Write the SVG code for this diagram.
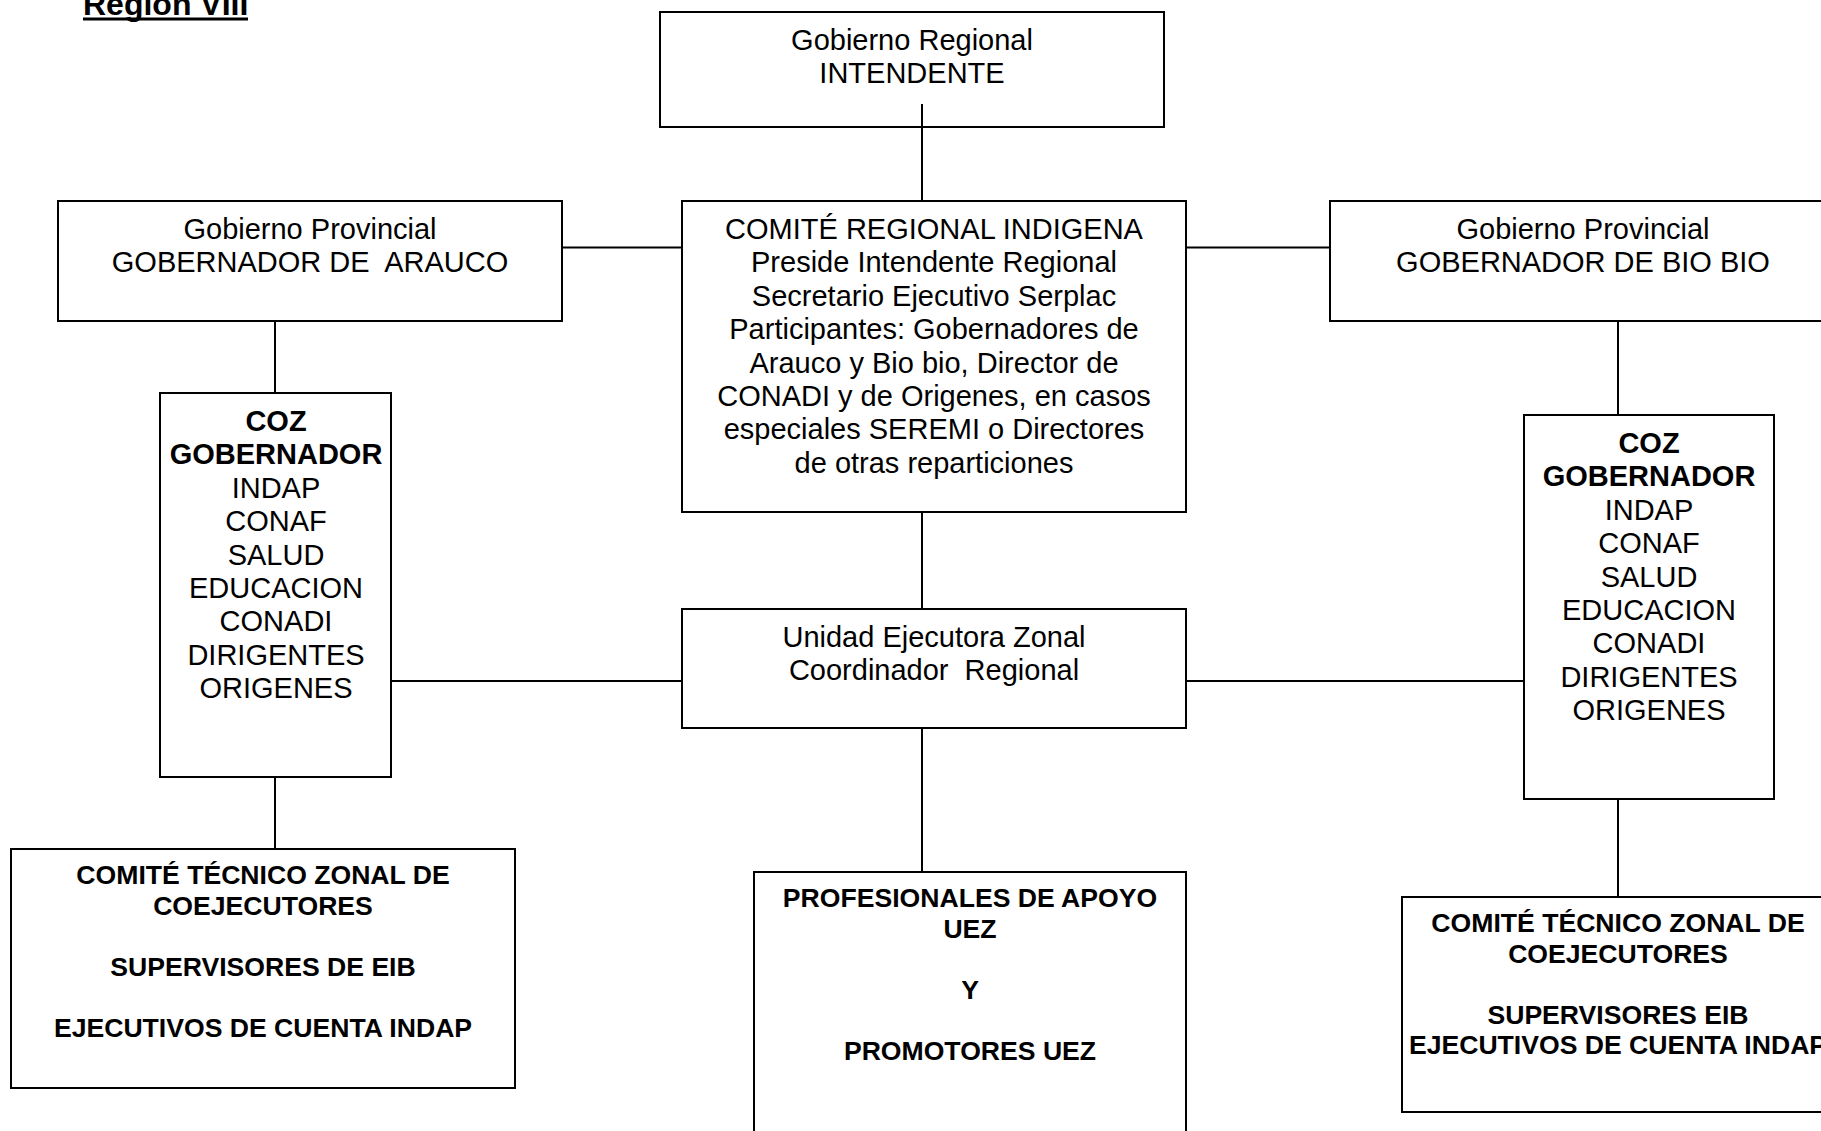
<svg xmlns="http://www.w3.org/2000/svg" width="1821" height="1131" viewBox="0 0 1821 1131">
<style>
.box{fill:#fff;stroke:#000;stroke-width:2}
.con line{stroke:#000;stroke-width:2}
text{font-family:"Liberation Sans",Arial,sans-serif;fill:#000;text-anchor:middle;white-space:pre}
.r{font-size:29px}
.b{font-size:29px;font-weight:bold}
.s{font-size:26.6px;font-weight:bold}
</style>
<rect width="1821" height="1131" fill="#fff"/>
<g id="title">
<text x="83" y="15" style="text-anchor:start;font-size:32px;font-weight:bold">Region VIII</text>
<rect x="83" y="17.5" width="165" height="3" fill="#000"/>
</g>
<g id="n-gobierno-regional">
<rect class="box" x="660" y="12" width="504" height="115"/>
<text class="r" x="912"><tspan x="912" y="50">Gobierno Regional</tspan><tspan x="912" y="83.4">INTENDENTE</tspan></text>
</g>
<g id="n-arauco">
<rect class="box" x="58" y="201" width="504" height="120"/>
<text class="r" xml:space="preserve"><tspan x="310" y="239">Gobierno Provincial</tspan><tspan x="310" y="272.4">GOBERNADOR DE  ARAUCO</tspan></text>
</g>
<g id="n-comite-regional">
<rect class="box" x="682" y="201" width="504" height="311"/>
<text class="r"><tspan x="934" y="239">COMITÉ REGIONAL INDIGENA</tspan><tspan x="934" y="272.4">Preside Intendente Regional</tspan><tspan x="934" y="305.8">Secretario Ejecutivo Serplac</tspan><tspan x="934" y="339.2">Participantes: Gobernadores de</tspan><tspan x="934" y="372.6">Arauco y Bio bio, Director de</tspan><tspan x="934" y="406">CONADI y de Origenes, en casos</tspan><tspan x="934" y="439.4">especiales SEREMI o Directores</tspan><tspan x="934" y="472.8">de otras reparticiones</tspan></text>
</g>
<g id="n-biobio">
<rect class="box" x="1330" y="201" width="504" height="120"/>
<text class="r"><tspan x="1583" y="239">Gobierno Provincial</tspan><tspan x="1583" y="272.4">GOBERNADOR DE BIO BIO</tspan></text>
</g>
<g id="n-coz-left">
<rect class="box" x="160" y="393" width="231" height="384"/>
<text><tspan class="b" x="276" y="431">COZ</tspan><tspan class="b" x="276" y="464.4">GOBERNADOR</tspan><tspan class="r" x="276" y="497.8">INDAP</tspan><tspan class="r" x="276" y="531.2">CONAF</tspan><tspan class="r" x="276" y="564.6">SALUD</tspan><tspan class="r" x="276" y="598">EDUCACION</tspan><tspan class="r" x="276" y="631.4">CONADI</tspan><tspan class="r" x="276" y="664.8">DIRIGENTES</tspan><tspan class="r" x="276" y="698.2">ORIGENES</tspan></text>
</g>
<g id="n-coz-right">
<rect class="box" x="1524" y="415" width="250" height="384"/>
<text><tspan class="b" x="1649" y="453">COZ</tspan><tspan class="b" x="1649" y="486.4">GOBERNADOR</tspan><tspan class="r" x="1649" y="519.8">INDAP</tspan><tspan class="r" x="1649" y="553.2">CONAF</tspan><tspan class="r" x="1649" y="586.6">SALUD</tspan><tspan class="r" x="1649" y="620">EDUCACION</tspan><tspan class="r" x="1649" y="653.4">CONADI</tspan><tspan class="r" x="1649" y="686.8">DIRIGENTES</tspan><tspan class="r" x="1649" y="720.2">ORIGENES</tspan></text>
</g>
<g id="n-uez">
<rect class="box" x="682" y="609" width="504" height="119"/>
<text class="r" xml:space="preserve"><tspan x="934" y="647">Unidad Ejecutora Zonal</tspan><tspan x="934" y="680.4">Coordinador  Regional</tspan></text>
</g>
<g id="n-profesionales">
<rect class="box" x="754" y="872" width="432" height="270"/>
<text class="s"><tspan x="970" y="907">PROFESIONALES DE APOYO</tspan><tspan x="970" y="937.6">UEZ</tspan><tspan x="970" y="998.8">Y</tspan><tspan x="970" y="1060">PROMOTORES UEZ</tspan></text>
</g>
<g id="n-tecnico-left">
<rect class="box" x="11" y="849" width="504" height="239"/>
<text class="s"><tspan x="263" y="884">COMITÉ TÉCNICO ZONAL DE</tspan><tspan x="263" y="914.6">COEJECUTORES</tspan><tspan x="263" y="975.8">SUPERVISORES DE EIB</tspan><tspan x="263" y="1037">EJECUTIVOS DE CUENTA INDAP</tspan></text>
</g>
<g id="n-tecnico-right">
<rect class="box" x="1402" y="897" width="432" height="215"/>
<text class="s"><tspan x="1618" y="932">COMITÉ TÉCNICO ZONAL DE</tspan><tspan x="1618" y="962.6">COEJECUTORES</tspan><tspan x="1618" y="1023.8">SUPERVISORES EIB</tspan><tspan x="1618" y="1054.4">EJECUTIVOS DE CUENTA INDAP</tspan></text>
</g>
<g id="connectors" class="con">
<line x1="922" y1="104" x2="922" y2="201"/>
<line x1="562" y1="247.5" x2="682" y2="247.5"/>
<line x1="1186" y1="247.5" x2="1330" y2="247.5"/>
<line x1="275" y1="321" x2="275" y2="393"/>
<line x1="1618" y1="321" x2="1618" y2="415"/>
<line x1="922" y1="512" x2="922" y2="609"/>
<line x1="391" y1="681" x2="682" y2="681"/>
<line x1="1186" y1="681" x2="1524" y2="681"/>
<line x1="922" y1="728" x2="922" y2="872"/>
<line x1="275" y1="777" x2="275" y2="849"/>
<line x1="1618" y1="799" x2="1618" y2="897"/>
</g>
</svg>
